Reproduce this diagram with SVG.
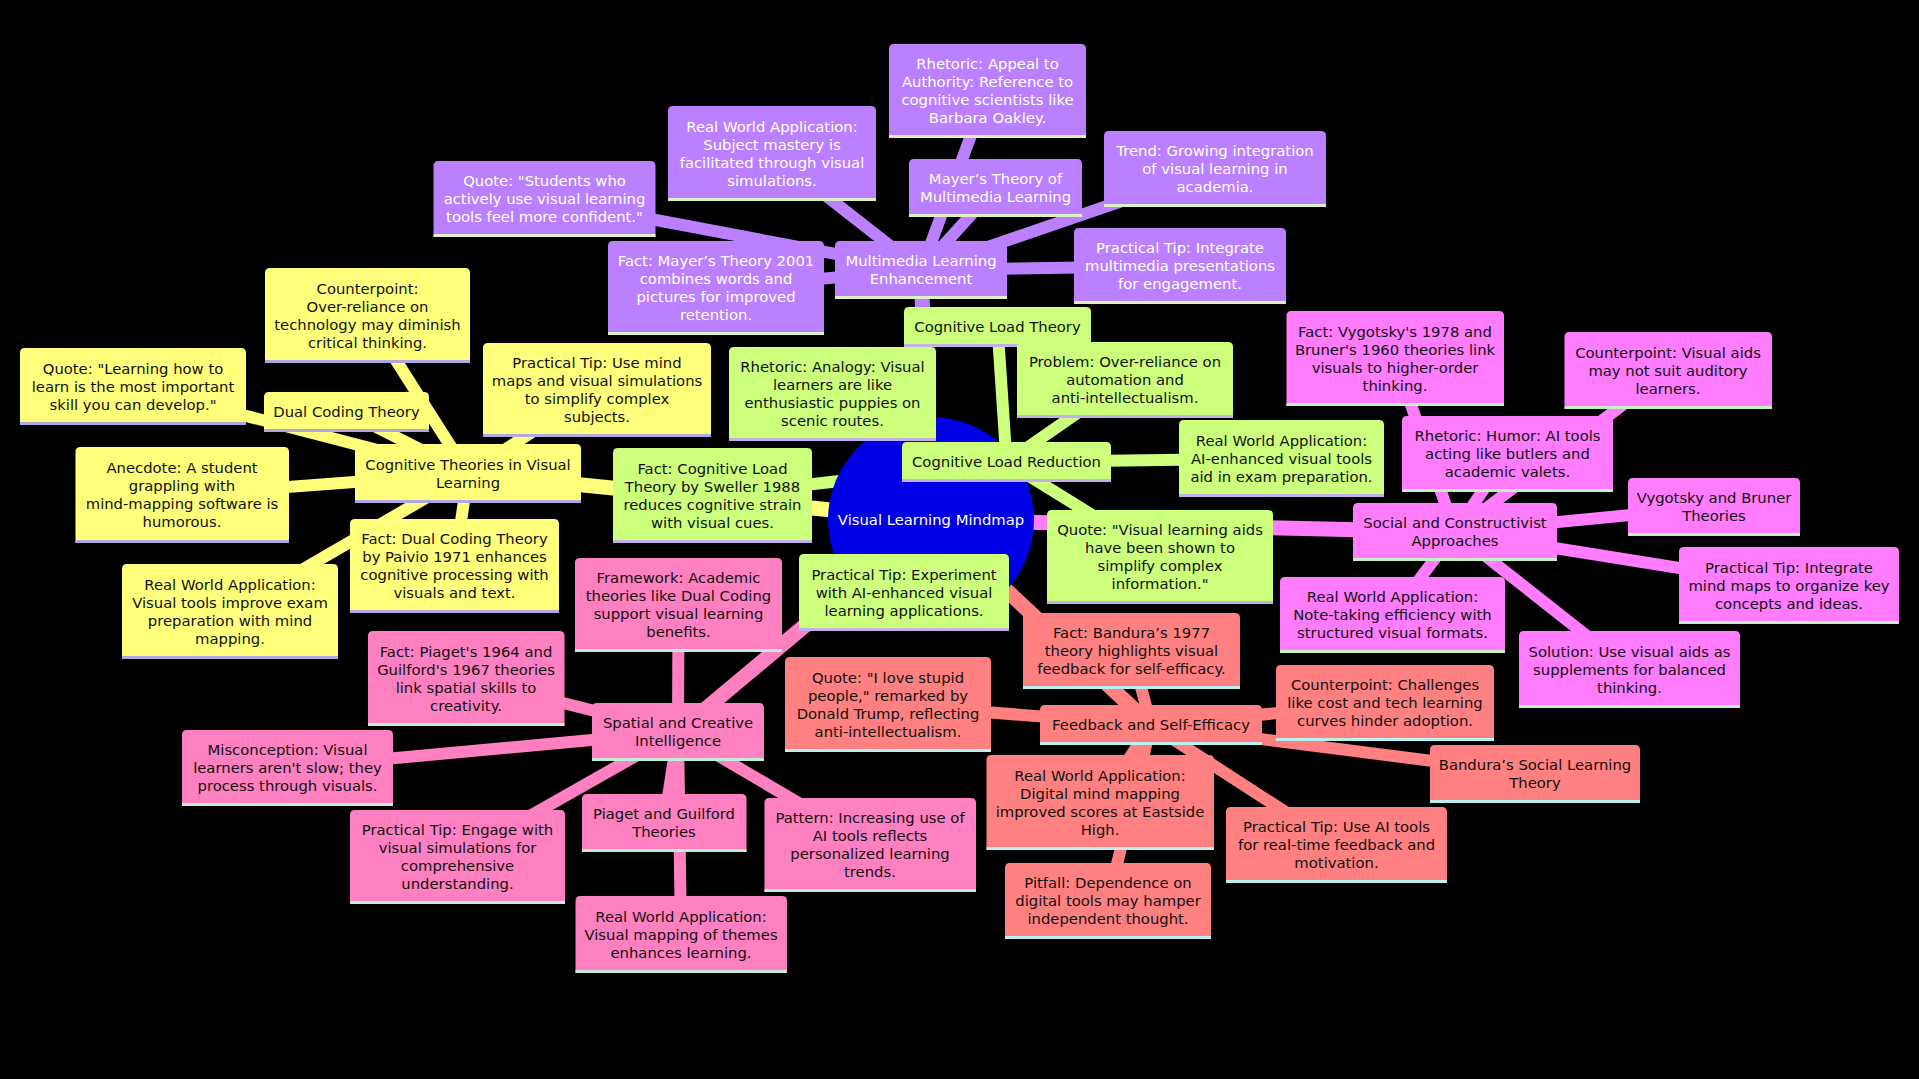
<svg xmlns="http://www.w3.org/2000/svg" width="1919" height="1079" viewBox="0 0 1919 1079">
<style>
text{font-family:"DejaVu Sans",sans-serif;font-size:14.8px;text-anchor:middle;fill:#111}
.p text,.r text{fill:#fff}
.e line{stroke-linecap:butt}
.e .d0{stroke-width:15}.e .d1{stroke-width:12}
.ly{stroke:#ffff7c}.lg{stroke:#ccff7c}.lp{stroke:#bb80ff}.lm{stroke:#ff7cff}.ls{stroke:#ff8080}.lk{stroke:#ff80c0}
.y .b{fill:#ffff7c}.y .u{stroke:#b0a8e0}
.g .b{fill:#ccff7c}.g .u{stroke:#c4b0e8}
.p .b{fill:#bb80ff}.p .u{stroke:#dcf0c4}
.m .b{fill:#ff7cff}.m .u{stroke:#c4f0c4}
.s .b{fill:#ff8080}.s .u{stroke:#bcf0f0}
.k .b{fill:#ff80c0}.k .u{stroke:#c4ecd8}
.u{stroke-width:3;fill:none}
</style>
<rect width="1919" height="1079" fill="#000"/>
<g id="connectors" class="e">
<line class="d0 ly" x1="931" y1="520" x2="468" y2="473.5"/>
<line class="d0 lp" x1="931" y1="520" x2="921" y2="270"/>
<line class="d0 lg" x1="931" y1="520" x2="1006" y2="462"/>
<line class="d0 lm" x1="931" y1="520" x2="1455" y2="532"/>
<line class="d0 ls" x1="931" y1="520" x2="1151" y2="725"/>
<line class="d0 lk" x1="931" y1="520" x2="678" y2="732"/>
<line class="d1 ly" x1="468" y1="473.5" x2="346.5" y2="412"/>
<line class="d1 ly" x1="468" y1="473.5" x2="367.5" y2="315.5"/>
<line class="d1 ly" x1="468" y1="473.5" x2="133" y2="386.5"/>
<line class="d1 ly" x1="468" y1="473.5" x2="182" y2="495"/>
<line class="d1 ly" x1="468" y1="473.5" x2="230" y2="611.5"/>
<line class="d1 ly" x1="468" y1="473.5" x2="454.5" y2="566"/>
<line class="d1 ly" x1="468" y1="473.5" x2="597" y2="390"/>
<line class="d1 lp" x1="921" y1="270" x2="544.5" y2="199"/>
<line class="d1 lp" x1="921" y1="270" x2="716" y2="288"/>
<line class="d1 lp" x1="921" y1="270" x2="772" y2="153.5"/>
<line class="d1 lp" x1="921" y1="270" x2="987.5" y2="91"/>
<line class="d1 lp" x1="921" y1="270" x2="995.5" y2="188"/>
<line class="d1 lp" x1="921" y1="270" x2="1215" y2="169"/>
<line class="d1 lp" x1="921" y1="270" x2="1180" y2="266"/>
<line class="d1 lg" x1="1006.5" y1="462" x2="997.5" y2="327"/>
<line class="d1 lg" x1="1006.5" y1="462" x2="832.5" y2="394"/>
<line class="d1 lg" x1="1006.5" y1="462" x2="1125" y2="380"/>
<line class="d1 lg" x1="1006.5" y1="462" x2="1281.5" y2="458.5"/>
<line class="d1 lg" x1="1006.5" y1="462" x2="1160" y2="557"/>
<line class="d1 lg" x1="1006.5" y1="462" x2="904" y2="592.5"/>
<line class="d1 lg" x1="1006.5" y1="462" x2="712.5" y2="495.5"/>
<line class="d1 lm" x1="1455" y1="532" x2="1507.5" y2="454"/>
<line class="d1 lm" x1="1455" y1="532" x2="1395" y2="358.5"/>
<line class="d1 lm" x1="1455" y1="532" x2="1668" y2="370.5"/>
<line class="d1 lm" x1="1455" y1="532" x2="1714" y2="507"/>
<line class="d1 lm" x1="1455" y1="532" x2="1789" y2="585.5"/>
<line class="d1 lm" x1="1455" y1="532" x2="1392.5" y2="615"/>
<line class="d1 lm" x1="1455" y1="532" x2="1629.5" y2="669.5"/>
<line class="d1 ls" x1="1151" y1="725" x2="1131.5" y2="651"/>
<line class="d1 ls" x1="1151" y1="725" x2="888" y2="704.5"/>
<line class="d1 ls" x1="1151" y1="725" x2="1385" y2="703"/>
<line class="d1 ls" x1="1151" y1="725" x2="1535" y2="774"/>
<line class="d1 ls" x1="1151" y1="725" x2="1100" y2="802.5"/>
<line class="d1 ls" x1="1151" y1="725" x2="1336.5" y2="845"/>
<line class="d1 ls" x1="1151" y1="725" x2="1108" y2="901"/>
<line class="d1 lk" x1="678" y1="732" x2="678.5" y2="605"/>
<line class="d1 lk" x1="678" y1="732" x2="466" y2="678.5"/>
<line class="d1 lk" x1="678" y1="732" x2="287.5" y2="768"/>
<line class="d1 lk" x1="678" y1="732" x2="457.5" y2="857"/>
<line class="d1 lk" x1="678" y1="732" x2="664" y2="823"/>
<line class="d1 lk" x1="678" y1="732" x2="870" y2="845"/>
<line class="d1 lk" x1="678" y1="732" x2="681" y2="934.5"/>
</g>
<g id="root" class="r"><circle cx="931" cy="520" r="103" fill="#0000e6"/><text x="931" y="525">Visual Learning Mindmap</text></g>

<g id="n-theories" class="y"><path class="b" d="M355 503V449q0-5 5-5H576q5 0 5 5V503Z"/><line class="u" x1="355" x2="581" y1="501.5" y2="501.5"/><text x="468" y="469.5">Cognitive Theories in Visual<tspan x="468" dy="18">Learning</tspan></text></g>
<g id="n-dual" class="y"><path class="b" d="M264 432V397q0-5 5-5H424q5 0 5 5V432Z"/><line class="u" x1="264" x2="429" y1="430.5" y2="430.5"/><text x="346.5" y="417">Dual Coding Theory</text></g>
<g id="n-counter1" class="y"><path class="b" d="M265 363V273q0-5 5-5H465q5 0 5 5V363Z"/><line class="u" x1="265" x2="470" y1="361.5" y2="361.5"/><text x="367.5" y="293.5">Counterpoint:<tspan x="367.5" dy="18">Over-reliance on</tspan><tspan x="367.5" dy="18">technology may diminish</tspan><tspan x="367.5" dy="18">critical thinking.</tspan></text></g>
<g id="n-quote1" class="y"><path class="b" d="M20 425V353q0-5 5-5H241q5 0 5 5V425Z"/><line class="u" x1="20" x2="246" y1="423.5" y2="423.5"/><text x="133" y="373.5">Quote: "Learning how to<tspan x="133" dy="18">learn is the most important</tspan><tspan x="133" dy="18">skill you can develop."</tspan></text></g>
<g id="n-anecdote" class="y"><path class="b" d="M75.5 543V452q0-5 5-5H284q5 0 5 5V543Z"/><line class="u" x1="75.5" x2="289" y1="541.5" y2="541.5"/><text x="182" y="473">Anecdote: A student<tspan x="182" dy="18">grappling with</tspan><tspan x="182" dy="18">mind-mapping software is</tspan><tspan x="182" dy="18">humorous.</tspan></text></g>
<g id="n-rw1" class="y"><path class="b" d="M122 659V569q0-5 5-5H333q5 0 5 5V659Z"/><line class="u" x1="122" x2="338" y1="657.5" y2="657.5"/><text x="230" y="589.5">Real World Application:<tspan x="230" dy="18">Visual tools improve exam</tspan><tspan x="230" dy="18">preparation with mind</tspan><tspan x="230" dy="18">mapping.</tspan></text></g>
<g id="n-fact1" class="y"><path class="b" d="M350 613V524q0-5 5-5H554q5 0 5 5V613Z"/><line class="u" x1="350" x2="559" y1="611.5" y2="611.5"/><text x="454.5" y="544">Fact: Dual Coding Theory<tspan x="454.5" dy="18">by Paivio 1971 enhances</tspan><tspan x="454.5" dy="18">cognitive processing with</tspan><tspan x="454.5" dy="18">visuals and text.</tspan></text></g>
<g id="n-tip1" class="y"><path class="b" d="M483 437V348q0-5 5-5H706q5 0 5 5V437Z"/><line class="u" x1="483" x2="711" y1="435.5" y2="435.5"/><text x="597" y="368">Practical Tip: Use mind<tspan x="597" dy="18">maps and visual simulations</tspan><tspan x="597" dy="18">to simplify complex</tspan><tspan x="597" dy="18">subjects.</tspan></text></g>

<g id="n-multi" class="p"><path class="b" d="M835 299V246q0-5 5-5H1002q5 0 5 5V299Z"/><line class="u" x1="835" x2="1007" y1="297.5" y2="297.5"/><text x="921" y="266">Multimedia Learning<tspan x="921" dy="18">Enhancement</tspan></text></g>
<g id="n-quote2" class="p"><path class="b" d="M433.5 237V166q0-5 5-5H650.5q5 0 5 5V237Z"/><line class="u" x1="433.5" x2="655.5" y1="235.5" y2="235.5"/><text x="544.5" y="186">Quote: "Students who<tspan x="544.5" dy="18">actively use visual learning</tspan><tspan x="544.5" dy="18">tools feel more confident."</tspan></text></g>
<g id="n-fact2" class="p"><path class="b" d="M608 335V246q0-5 5-5H819q5 0 5 5V335Z"/><line class="u" x1="608" x2="824" y1="333.5" y2="333.5"/><text x="716" y="266">Fact: Mayer’s Theory 2001<tspan x="716" dy="18">combines words and</tspan><tspan x="716" dy="18">pictures for improved</tspan><tspan x="716" dy="18">retention.</tspan></text></g>
<g id="n-rw2" class="p"><path class="b" d="M668 201V111q0-5 5-5H871q5 0 5 5V201Z"/><line class="u" x1="668" x2="876" y1="199.5" y2="199.5"/><text x="772" y="131.5">Real World Application:<tspan x="772" dy="18">Subject mastery is</tspan><tspan x="772" dy="18">facilitated through visual</tspan><tspan x="772" dy="18">simulations.</tspan></text></g>
<g id="n-rhet1" class="p"><path class="b" d="M889 138V49q0-5 5-5H1081q5 0 5 5V138Z"/><line class="u" x1="889" x2="1086" y1="136.5" y2="136.5"/><text x="987.5" y="69">Rhetoric: Appeal to<tspan x="987.5" dy="18">Authority: Reference to</tspan><tspan x="987.5" dy="18">cognitive scientists like</tspan><tspan x="987.5" dy="18">Barbara Oakley.</tspan></text></g>
<g id="n-mayer" class="p"><path class="b" d="M909 217V164q0-5 5-5H1077q5 0 5 5V217Z"/><line class="u" x1="909" x2="1082" y1="215.5" y2="215.5"/><text x="995.5" y="184">Mayer’s Theory of<tspan x="995.5" dy="18">Multimedia Learning</tspan></text></g>
<g id="n-trend" class="p"><path class="b" d="M1104 207V136q0-5 5-5H1321q5 0 5 5V207Z"/><line class="u" x1="1104" x2="1326" y1="205.5" y2="205.5"/><text x="1215" y="156">Trend: Growing integration<tspan x="1215" dy="18">of visual learning in</tspan><tspan x="1215" dy="18">academia.</tspan></text></g>
<g id="n-tip2" class="p"><path class="b" d="M1074 304V233q0-5 5-5H1281q5 0 5 5V304Z"/><line class="u" x1="1074" x2="1286" y1="302.5" y2="302.5"/><text x="1180" y="253">Practical Tip: Integrate<tspan x="1180" dy="18">multimedia presentations</tspan><tspan x="1180" dy="18">for engagement.</tspan></text></g>

<g id="n-clr" class="g"><path class="b" d="M902 482V447q0-5 5-5H1106q5 0 5 5V482Z"/><line class="u" x1="902" x2="1111" y1="480.5" y2="480.5"/><text x="1006.5" y="467">Cognitive Load Reduction</text></g>
<g id="n-clt" class="g"><path class="b" d="M904 347V312q0-5 5-5H1086q5 0 5 5V347Z"/><line class="u" x1="904" x2="1091" y1="345.5" y2="345.5"/><text x="997.5" y="332">Cognitive Load Theory</text></g>
<g id="n-rhet2" class="g"><path class="b" d="M729 441V352q0-5 5-5H931q5 0 5 5V441Z"/><line class="u" x1="729" x2="936" y1="439.5" y2="439.5"/><text x="832.5" y="372">Rhetoric: Analogy: Visual<tspan x="832.5" dy="18">learners are like</tspan><tspan x="832.5" dy="18">enthusiastic puppies on</tspan><tspan x="832.5" dy="18">scenic routes.</tspan></text></g>
<g id="n-problem" class="g"><path class="b" d="M1017 418V347q0-5 5-5H1228q5 0 5 5V418Z"/><line class="u" x1="1017" x2="1233" y1="416.5" y2="416.5"/><text x="1125" y="367">Problem: Over-reliance on<tspan x="1125" dy="18">automation and</tspan><tspan x="1125" dy="18">anti-intellectualism.</tspan></text></g>
<g id="n-rw3" class="g"><path class="b" d="M1179 497V425q0-5 5-5H1379q5 0 5 5V497Z"/><line class="u" x1="1179" x2="1384" y1="495.5" y2="495.5"/><text x="1281.5" y="445.5">Real World Application:<tspan x="1281.5" dy="18">AI-enhanced visual tools</tspan><tspan x="1281.5" dy="18">aid in exam preparation.</tspan></text></g>
<g id="n-quote3" class="g"><path class="b" d="M1047 604V515q0-5 5-5H1268q5 0 5 5V604Z"/><line class="u" x1="1047" x2="1273" y1="602.5" y2="602.5"/><text x="1160" y="535">Quote: "Visual learning aids<tspan x="1160" dy="18">have been shown to</tspan><tspan x="1160" dy="18">simplify complex</tspan><tspan x="1160" dy="18">information."</tspan></text></g>
<g id="n-tip3" class="g"><path class="b" d="M799 631V559q0-5 5-5H1004q5 0 5 5V631Z"/><line class="u" x1="799" x2="1009" y1="629.5" y2="629.5"/><text x="904" y="579.5">Practical Tip: Experiment<tspan x="904" dy="18">with AI-enhanced visual</tspan><tspan x="904" dy="18">learning applications.</tspan></text></g>
<g id="n-fact3" class="g"><path class="b" d="M613 543V453q0-5 5-5H807q5 0 5 5V543Z"/><line class="u" x1="613" x2="812" y1="541.5" y2="541.5"/><text x="712.5" y="473.5">Fact: Cognitive Load<tspan x="712.5" dy="18">Theory by Sweller 1988</tspan><tspan x="712.5" dy="18">reduces cognitive strain</tspan><tspan x="712.5" dy="18">with visual cues.</tspan></text></g>

<g id="n-social" class="m"><path class="b" d="M1353 561V508q0-5 5-5H1552q5 0 5 5V561Z"/><line class="u" x1="1353" x2="1557" y1="559.5" y2="559.5"/><text x="1455" y="528">Social and Constructivist<tspan x="1455" dy="18">Approaches</tspan></text></g>
<g id="n-fact4" class="m"><path class="b" d="M1286.5 406V316q0-5 5-5H1499q5 0 5 5V406Z"/><line class="u" x1="1286.5" x2="1504" y1="404.5" y2="404.5"/><text x="1395" y="336.5">Fact: Vygotsky's 1978 and<tspan x="1395" dy="18">Bruner's 1960 theories link</tspan><tspan x="1395" dy="18">visuals to higher-order</tspan><tspan x="1395" dy="18">thinking.</tspan></text></g>
<g id="n-counter2" class="m"><path class="b" d="M1564.5 409V337q0-5 5-5H1767q5 0 5 5V409Z"/><line class="u" x1="1564.5" x2="1772" y1="407.5" y2="407.5"/><text x="1668" y="357.5">Counterpoint: Visual aids<tspan x="1668" dy="18">may not suit auditory</tspan><tspan x="1668" dy="18">learners.</tspan></text></g>
<g id="n-rhet3" class="m"><path class="b" d="M1402 492V421q0-5 5-5H1608q5 0 5 5V492Z"/><line class="u" x1="1402" x2="1613" y1="490.5" y2="490.5"/><text x="1507.5" y="441">Rhetoric: Humor: AI tools<tspan x="1507.5" dy="18">acting like butlers and</tspan><tspan x="1507.5" dy="18">academic valets.</tspan></text></g>
<g id="n-vyg" class="m"><path class="b" d="M1628 536V483q0-5 5-5H1795q5 0 5 5V536Z"/><line class="u" x1="1628" x2="1800" y1="534.5" y2="534.5"/><text x="1714" y="503">Vygotsky and Bruner<tspan x="1714" dy="18">Theories</tspan></text></g>
<g id="n-tip4" class="m"><path class="b" d="M1679 624V552q0-5 5-5H1894q5 0 5 5V624Z"/><line class="u" x1="1679" x2="1899" y1="622.5" y2="622.5"/><text x="1789" y="572.5">Practical Tip: Integrate<tspan x="1789" dy="18">mind maps to organize key</tspan><tspan x="1789" dy="18">concepts and ideas.</tspan></text></g>
<g id="n-rw4" class="m"><path class="b" d="M1280 653V582q0-5 5-5H1500q5 0 5 5V653Z"/><line class="u" x1="1280" x2="1505" y1="651.5" y2="651.5"/><text x="1392.5" y="602">Real World Application:<tspan x="1392.5" dy="18">Note-taking efficiency with</tspan><tspan x="1392.5" dy="18">structured visual formats.</tspan></text></g>
<g id="n-solution" class="m"><path class="b" d="M1519 708V636q0-5 5-5H1735q5 0 5 5V708Z"/><line class="u" x1="1519" x2="1740" y1="706.5" y2="706.5"/><text x="1629.5" y="656.5">Solution: Use visual aids as<tspan x="1629.5" dy="18">supplements for balanced</tspan><tspan x="1629.5" dy="18">thinking.</tspan></text></g>

<g id="n-feedback" class="s"><path class="b" d="M1040 745V710q0-5 5-5H1257q5 0 5 5V745Z"/><line class="u" x1="1040" x2="1262" y1="743.5" y2="743.5"/><text x="1151" y="730">Feedback and Self-Efficacy</text></g>
<g id="n-fact5" class="s"><path class="b" d="M1023 689V618q0-5 5-5H1235q5 0 5 5V689Z"/><line class="u" x1="1023" x2="1240" y1="687.5" y2="687.5"/><text x="1131.5" y="638">Fact: Bandura’s 1977<tspan x="1131.5" dy="18">theory highlights visual</tspan><tspan x="1131.5" dy="18">feedback for self-efficacy.</tspan></text></g>
<g id="n-quote5" class="s"><path class="b" d="M785 752V662q0-5 5-5H986q5 0 5 5V752Z"/><line class="u" x1="785" x2="991" y1="750.5" y2="750.5"/><text x="888" y="682.5">Quote: "I love stupid<tspan x="888" dy="18">people," remarked by</tspan><tspan x="888" dy="18">Donald Trump, reflecting</tspan><tspan x="888" dy="18">anti-intellectualism.</tspan></text></g>
<g id="n-counter3" class="s"><path class="b" d="M1276 741V670q0-5 5-5H1489q5 0 5 5V741Z"/><line class="u" x1="1276" x2="1494" y1="739.5" y2="739.5"/><text x="1385" y="690">Counterpoint: Challenges<tspan x="1385" dy="18">like cost and tech learning</tspan><tspan x="1385" dy="18">curves hinder adoption.</tspan></text></g>
<g id="n-bandura" class="s"><path class="b" d="M1430 803V750q0-5 5-5H1635q5 0 5 5V803Z"/><line class="u" x1="1430" x2="1640" y1="801.5" y2="801.5"/><text x="1535" y="770">Bandura’s Social Learning<tspan x="1535" dy="18">Theory</tspan></text></g>
<g id="n-rw5" class="s"><path class="b" d="M986.5 850V760q0-5 5-5H1209q5 0 5 5V850Z"/><line class="u" x1="986.5" x2="1214" y1="848.5" y2="848.5"/><text x="1100" y="780.5">Real World Application:<tspan x="1100" dy="18">Digital mind mapping</tspan><tspan x="1100" dy="18">improved scores at Eastside</tspan><tspan x="1100" dy="18">High.</tspan></text></g>
<g id="n-tip5" class="s"><path class="b" d="M1226 883V812q0-5 5-5H1442q5 0 5 5V883Z"/><line class="u" x1="1226" x2="1447" y1="881.5" y2="881.5"/><text x="1336.5" y="832">Practical Tip: Use AI tools<tspan x="1336.5" dy="18">for real-time feedback and</tspan><tspan x="1336.5" dy="18">motivation.</tspan></text></g>
<g id="n-pitfall" class="s"><path class="b" d="M1005 939V868q0-5 5-5H1206q5 0 5 5V939Z"/><line class="u" x1="1005" x2="1211" y1="937.5" y2="937.5"/><text x="1108" y="888">Pitfall: Dependence on<tspan x="1108" dy="18">digital tools may hamper</tspan><tspan x="1108" dy="18">independent thought.</tspan></text></g>

<g id="n-spatial" class="k"><path class="b" d="M592 761V708q0-5 5-5H759q5 0 5 5V761Z"/><line class="u" x1="592" x2="764" y1="759.5" y2="759.5"/><text x="678" y="728">Spatial and Creative<tspan x="678" dy="18">Intelligence</tspan></text></g>
<g id="n-framework" class="k"><path class="b" d="M575 652V563q0-5 5-5H777q5 0 5 5V652Z"/><line class="u" x1="575" x2="782" y1="650.5" y2="650.5"/><text x="678.5" y="583">Framework: Academic<tspan x="678.5" dy="18">theories like Dual Coding</tspan><tspan x="678.5" dy="18">support visual learning</tspan><tspan x="678.5" dy="18">benefits.</tspan></text></g>
<g id="n-fact6" class="k"><path class="b" d="M368 726V636q0-5 5-5H559.5q5 0 5 5V726Z"/><line class="u" x1="368" x2="564.5" y1="724.5" y2="724.5"/><text x="466" y="656.5">Fact: Piaget's 1964 and<tspan x="466" dy="18">Guilford's 1967 theories</tspan><tspan x="466" dy="18">link spatial skills to</tspan><tspan x="466" dy="18">creativity.</tspan></text></g>
<g id="n-miscon" class="k"><path class="b" d="M182 806V735q0-5 5-5H388q5 0 5 5V806Z"/><line class="u" x1="182" x2="393" y1="804.5" y2="804.5"/><text x="287.5" y="755">Misconception: Visual<tspan x="287.5" dy="18">learners aren't slow; they</tspan><tspan x="287.5" dy="18">process through visuals.</tspan></text></g>
<g id="n-tip6" class="k"><path class="b" d="M350 904V815q0-5 5-5H560q5 0 5 5V904Z"/><line class="u" x1="350" x2="565" y1="902.5" y2="902.5"/><text x="457.5" y="835">Practical Tip: Engage with<tspan x="457.5" dy="18">visual simulations for</tspan><tspan x="457.5" dy="18">comprehensive</tspan><tspan x="457.5" dy="18">understanding.</tspan></text></g>
<g id="n-piaget" class="k"><path class="b" d="M582 852V799q0-5 5-5H741.5q5 0 5 5V852Z"/><line class="u" x1="582" x2="746.5" y1="850.5" y2="850.5"/><text x="664" y="819">Piaget and Guilford<tspan x="664" dy="18">Theories</tspan></text></g>
<g id="n-pattern" class="k"><path class="b" d="M764.5 892V803q0-5 5-5H971q5 0 5 5V892Z"/><line class="u" x1="764.5" x2="976" y1="890.5" y2="890.5"/><text x="870" y="823">Pattern: Increasing use of<tspan x="870" dy="18">AI tools reflects</tspan><tspan x="870" dy="18">personalized learning</tspan><tspan x="870" dy="18">trends.</tspan></text></g>
<g id="n-rw6" class="k"><path class="b" d="M575.5 973V901q0-5 5-5H782q5 0 5 5V973Z"/><line class="u" x1="575.5" x2="787" y1="971.5" y2="971.5"/><text x="681" y="921.5">Real World Application:<tspan x="681" dy="18">Visual mapping of themes</tspan><tspan x="681" dy="18">enhances learning.</tspan></text></g>
</svg>
